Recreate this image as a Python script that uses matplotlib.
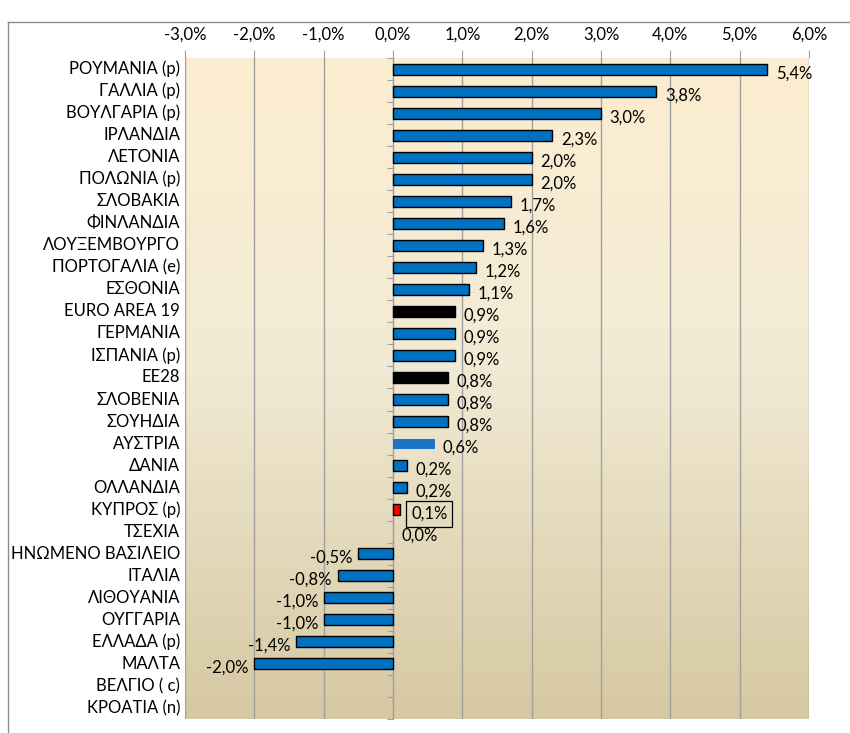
import numpy as np
import matplotlib.pyplot as plt
from matplotlib.lines import Line2D
from matplotlib.colors import LinearSegmentedColormap

plt.rcParams['font.family'] = ['Lato', 'DejaVu Sans']

# Data (annual change, %)
countries = ['ΡΟΥΜΑΝΙΑ (p)', 'ΓΑΛΛΙΑ (p)', 'ΒΟΥΛΓΑΡΙΑ (p)', 'ΙΡΛΑΝΔΙΑ', 'ΛΕΤΟΝΙΑ',
             'ΠΟΛΩΝΙΑ (p)', 'ΣΛΟΒΑΚΙΑ', 'ΦΙΝΛΑΝΔΙΑ', 'ΛΟΥΞΕΜΒΟΥΡΓΟ', 'ΠΟΡΤΟΓΑΛΙΑ (e)',
             'ΕΣΘΟΝΙΑ', 'EURO AREA 19', 'ΓΕΡΜΑΝΙΑ', 'ΙΣΠΑΝΙΑ (p)', 'ΕΕ28',
             'ΣΛΟΒΕΝΙΑ', 'ΣΟΥΗΔΙΑ', 'ΑΥΣΤΡΙΑ', 'ΔΑΝΙΑ', 'ΟΛΛΑΝΔΙΑ',
             'ΚΥΠΡΟΣ (p)', 'ΤΣΕΧΙΑ', 'ΗΝΩΜΕΝΟ ΒΑΣΙΛΕΙΟ', 'ΙΤΑΛΙΑ', 'ΛΙΘΟΥΑΝΙΑ',
             'ΟΥΓΓΑΡΙΑ', 'ΕΛΛΑΔΑ (p)', 'ΜΑΛΤΑ', 'ΒΕΛΓΙΟ ( c)', 'ΚΡΟΑΤΙΑ (n)']
values = [5.4, 3.8, 3.0, 2.3, 2.0,
          2.0, 1.7, 1.6, 1.3, 1.2,
          1.1, 0.9, 0.9, 0.9, 0.8,
          0.8, 0.8, 0.6, 0.2, 0.2,
          0.1, 0.0, -0.5, -0.8, -1.0,
          -1.0, -1.4, -2.0, None, None]
xticks = [-3, -2, -1, 0, 1, 2, 3, 4, 5, 6]

blue = '#0070C0'
styles = {'EURO AREA 19': ('black', 'black', 1.0),
          'ΕΕ28': ('black', 'black', 1.0),
          'ΑΥΣΤΡΙΑ': ('#1a75c4', 'none', 0.0),
          'ΚΥΠΡΟΣ (p)': ('#FF0000', 'black', 1.0)}

fig = plt.figure(figsize=(8.5, 7.33), dpi=100)
ax = fig.add_axes([185 / 850, 1 - 719 / 733, 624 / 850, 661 / 733])

n = len(countries)

# background gradient
cmap = LinearSegmentedColormap.from_list(
    'bg', [(0, '#FDEDD0'), (0.45, '#F2EBD5'), (1, '#D6C8A2')])
grad = np.linspace(0, 1, 256).reshape(-1, 1)
ax.imshow(grad, cmap=cmap, aspect='auto', extent=[-3, 6, n - 0.5, -0.5], zorder=0)

for xv in xticks:
    ax.axvline(xv, color='#A0A0A0', lw=1.0, zorder=1)

for i, (c, v) in enumerate(zip(countries, values)):
    if v is None:
        continue
    fc, ec, lw = styles.get(c, (blue, 'black', 1.0))
    if v == 0:
        lw = 0
    h = 0.45 if c == 'ΑΥΣΤΡΙΑ' else 0.5
    ax.barh(i, v, height=h, color=fc, edgecolor=ec, linewidth=lw, zorder=3)
    lbl = f'{v:.1f}%'.replace('.', ',')
    if v < 0:
        ax.annotate(lbl, (v, i), xytext=(-4, -3), textcoords='offset points',
                    ha='right', va='center', fontsize=12, zorder=4)
    else:
        box = None
        if c == 'ΚΥΠΡΟΣ (p)':
            box = dict(boxstyle='square,pad=0.3', fc='none', ec='black', lw=0.9)
        ax.annotate(lbl, (v, i), xytext=(8 if box else 6, -3),
                    textcoords='offset points', ha='left', va='center',
                    fontsize=12, bbox=box, zorder=4)

ax.set_xlim(-3, 6)
ax.set_ylim(n - 0.5, -0.5)

# top axis
ax.xaxis.tick_top()
ax.set_xticks(xticks)
ax.set_xticklabels([f'{t:.1f}%'.replace('.', ',') for t in xticks], fontsize=12)
ax.tick_params(axis='x', direction='out', length=6, color='#A0A0A0', pad=5)

# category axis at zero
for s in ['top', 'right', 'bottom']:
    ax.spines[s].set_visible(False)
ax.spines['left'].set_position(('data', 0))
ax.spines['left'].set_color('#A0A0A0')
ax.set_yticks(np.arange(n + 1) - 0.5)
ax.set_yticklabels([])
ax.tick_params(axis='y', direction='out', length=4, color='#A0A0A0')
for i, c in enumerate(countries):
    ax.text(-0.008, i, c, transform=ax.get_yaxis_transform(), ha='right',
            va='center', fontsize=12)

# chart border (top and left visible)
fig.add_artist(Line2D([8 / 850, 1], [1 - 22 / 733, 1 - 22 / 733], color='#8C8C8C', lw=1))
fig.add_artist(Line2D([8 / 850, 8 / 850], [0, 1 - 22 / 733], color='#8C8C8C', lw=1))

fig.savefig('out.png', dpi=100)
